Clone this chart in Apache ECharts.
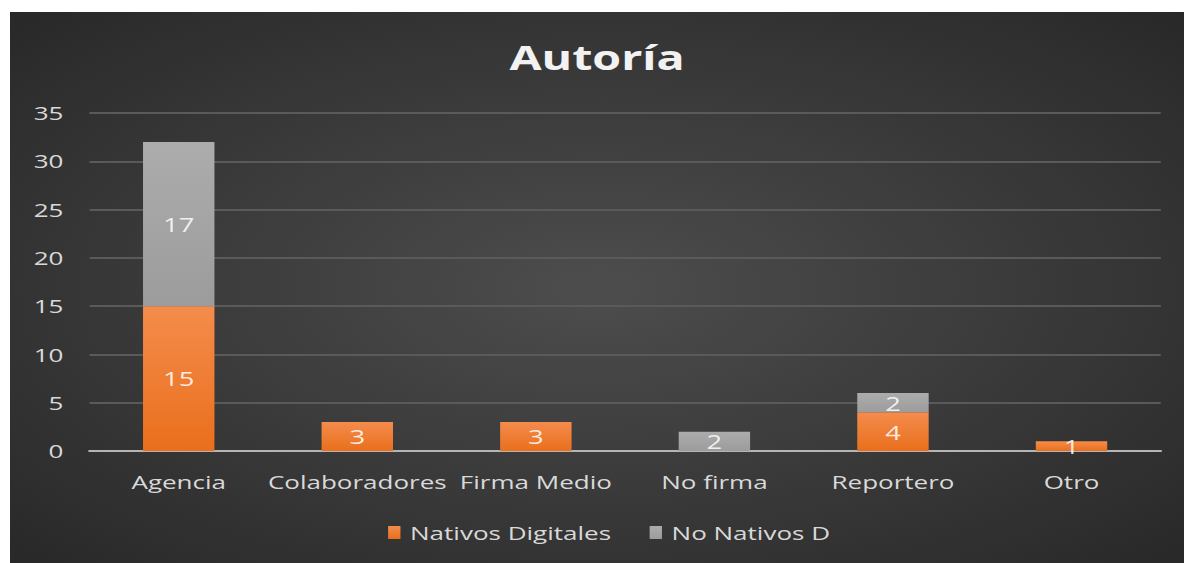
<!DOCTYPE html>
<html>
<head>
<meta charset="utf-8">
<script src="https://cdn.jsdelivr.net/npm/echarts@6/dist/echarts.min.js"></script>
<style>
  html, body { margin: 0; padding: 0; background: #fff; overflow: hidden; }
  /* el original está estirado en horizontal, se imita con scaleX */
  #chart {
    position: absolute; left: 10px; top: 12px;
    width: 857px; height: 551px;
    transform: scaleX(1.37); transform-origin: 0 0;
  }
</style>
</head>
<body>
<div id="chart"></div>
<script>
// datos
const categories = ['Agencia', 'Colaboradores', 'Firma Medio', 'No firma', 'Reportero', 'Otro']
const nativos = [15, 3, 3, 0, 4, 1]
const noNativos = [17, 0, 0, 2, 2, 0]
const yTicks = [0, 5, 10, 15, 20, 25, 30, 35]

const font = '"Open Sans", "Noto Sans", sans-serif'
const chart = echarts.init(document.getElementById('chart'), null, { renderer: 'svg' })

const barLabel = {
  show: true,
  position: 'inside',
  color: 'rgba(255,255,255,0.85)',
  fontSize: 20,
  fontFamily: font,
  formatter: p => (p.value ? p.value : '')
}

chart.setOption({
  backgroundColor: {
    type: 'radial', x: 0.5, y: 0.5, r: 0.75,
    colorStops: [
      { offset: 0, color: '#4d4d4d' },
      { offset: 1, color: '#262626' }
    ]
  },
  title: {
    text: 'Autoría',
    left: 'center',
    top: 23,
    textStyle: {
      color: '#f2f2f2',
      fontSize: 34,
      fontWeight: 'bold',
      fontFamily: font
    }
  },
  grid: { left: 58, right: 17, top: 101, bottom: 112 },
  legend: {
    bottom: 16,
    left: 271,
    itemWidth: 9,
    itemHeight: 13,
    itemGap: 28,
    icon: 'rect',
    textStyle: { color: '#d9d9d9', fontSize: 19, fontFamily: font, padding: [0, 0, 0, 2] }
  },
  xAxis: {
    type: 'category',
    data: categories,
    axisLine: { lineStyle: { color: '#b5b5b5', width: 2 } },
    axisTick: { show: false },
    axisLabel: { color: '#d9d9d9', fontSize: 19, fontFamily: font, margin: 21, interval: 0 }
  },
  yAxis: {
    type: 'value',
    min: yTicks[0],
    max: yTicks[yTicks.length - 1],
    interval: 5,
    axisLine: { show: false },
    axisTick: { show: false },
    axisLabel: { color: '#d9d9d9', fontSize: 19, fontFamily: font, margin: 19 },
    splitLine: { lineStyle: { color: '#5a5a5a', width: 2 } }
  },
  series: [
    {
      name: 'Nativos Digitales',
      type: 'bar',
      stack: 'total',
      barWidth: '40%',
      data: nativos,
      label: barLabel,
      itemStyle: {
        color: new echarts.graphic.LinearGradient(0, 0, 0, 1, [
          { offset: 0, color: '#f48c4c' },
          { offset: 1, color: '#e96f1c' }
        ])
      }
    },
    {
      name: 'No Nativos D',
      type: 'bar',
      stack: 'total',
      data: noNativos,
      label: barLabel,
      itemStyle: {
        color: new echarts.graphic.LinearGradient(0, 0, 0, 1, [
          { offset: 0, color: '#acacac' },
          { offset: 1, color: '#9c9c9c' }
        ])
      }
    }
  ]
})
</script>
</body>
</html>
